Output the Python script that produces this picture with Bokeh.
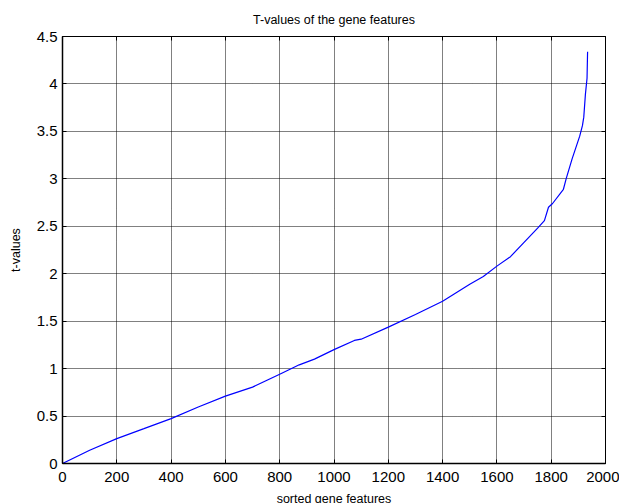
from bokeh.plotting import figure
from bokeh.models import FixedTicker, LinearAxis, Range1d, ColumnDataSource, CustomJSTickFormatter
from bokeh.embed import file_html
from bokeh.resources import INLINE

# data
gene_index = [0, 100, 200, 300, 400, 500, 600, 700, 800, 872, 928, 1000, 1075, 1100,
              1200, 1300, 1400, 1500, 1550, 1600, 1650, 1700, 1750, 1775, 1790, 1805,
              1845, 1855, 1877, 1905, 1915, 1920, 1926, 1932, 1934]
t_values = [0.0, 0.139, 0.262, 0.367, 0.473, 0.595, 0.71, 0.805, 0.94, 1.04, 1.10, 1.2, 1.297, 1.31,
            1.437, 1.57, 1.71, 1.89, 1.97, 2.08, 2.18, 2.33, 2.48, 2.56, 2.70, 2.74,
            2.89, 3.0, 3.21, 3.45, 3.56, 3.65, 3.89, 4.06, 4.34]
x_ticks = [0, 200, 400, 600, 800, 1000, 1200, 1400, 1600, 1800, 2000]
y_ticks = [0, 0.5, 1, 1.5, 2, 2.5, 3, 3.5, 4, 4.5]
y_tick_labels = ["0", "0.5", "1", "1.5", "2", "2.5", "3", "3.5", "4", "4.5"]

FONT = "Liberation Sans"

p = figure(frame_width=543, frame_height=427, output_backend="svg", toolbar_location=None,
           x_range=Range1d(0, 2000), y_range=Range1d(0, 4.5),
           title="T-values of the gene features",
           x_axis_label="sorted gene features", y_axis_label="t-values",
           min_border_left=62, min_border_right=14, min_border_top=31, min_border_bottom=42)

p.title.align = "center"
p.title.text_font = FONT
p.title.text_font_size = "12.5px"
p.title.text_font_style = "normal"
p.title.text_color = "black"
p.title.standoff = 20

src = ColumnDataSource(dict(x=gene_index, y=t_values))
p.line("x", "y", source=src, line_color="blue", line_width=1.2)

for ax in (p.xaxis[0], p.yaxis[0]):
    ax.major_label_text_font = FONT
    ax.major_label_text_font_size = "15px"
    ax.major_label_text_color = "black"
    ax.axis_label_text_font = FONT
    ax.axis_label_text_font_size = "12.5px"
    ax.axis_label_text_font_style = "normal"
    ax.axis_label_text_color = "black"
    ax.axis_line_color = "black"
    ax.axis_line_width = 1.5
    ax.major_tick_in = 4
    ax.major_tick_out = 0
    ax.minor_tick_in = 0
    ax.minor_tick_out = 0
    ax.major_tick_line_color = "black"

p.xaxis[0].major_label_standoff = 8
p.xaxis[0].axis_label_standoff = 7
p.yaxis[0].major_label_standoff = 5
p.yaxis[0].axis_label_standoff = 11

p.xaxis[0].ticker = FixedTicker(ticks=x_ticks)
p.yaxis[0].ticker = FixedTicker(ticks=y_ticks)
p.yaxis[0].major_label_overrides = {t: l for t, l in zip(y_ticks, y_tick_labels)}

blank = CustomJSTickFormatter(code="return ''")
# box ticks on top and right
top = LinearAxis(ticker=FixedTicker(ticks=x_ticks), formatter=blank,
                 major_tick_in=4, major_tick_out=0, minor_tick_in=0, minor_tick_out=0,
                 axis_line_color="black", major_label_standoff=6)
right = LinearAxis(ticker=FixedTicker(ticks=y_ticks), formatter=blank,
                   major_tick_in=4, major_tick_out=0, minor_tick_in=0, minor_tick_out=0,
                   axis_line_color="black", major_label_standoff=0)
p.add_layout(top, "above")
p.add_layout(right, "right")

p.xgrid.ticker = FixedTicker(ticks=x_ticks)
p.ygrid.ticker = FixedTicker(ticks=y_ticks)
for g in (p.xgrid[0], p.ygrid[0]):
    g.grid_line_color = "black"
    g.grid_line_dash = "1 1"
    g.grid_line_alpha = 1.0

p.outline_line_color = "black"
p.background_fill_color = "white"
p.border_fill_color = "white"

open("out.html", "w").write(file_html(p, INLINE))
